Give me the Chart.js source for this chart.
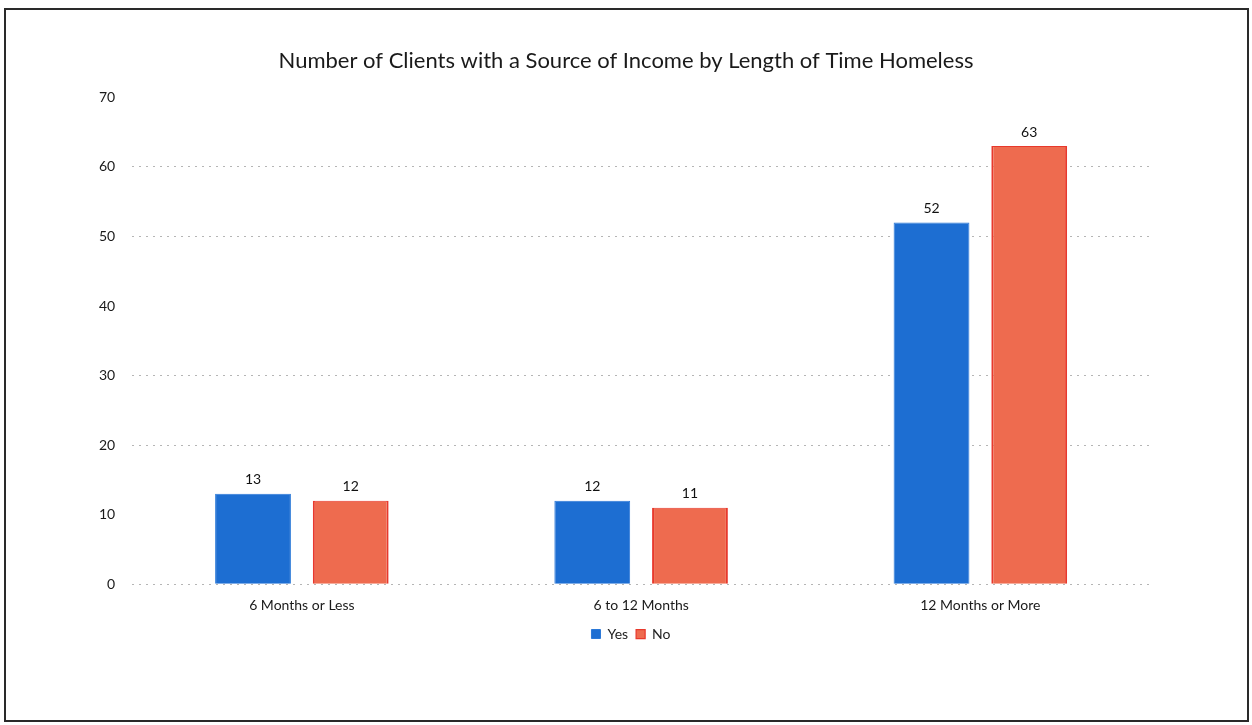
<!DOCTYPE html>
<html>
<head>
<meta charset="utf-8">
<script src="https://cdn.jsdelivr.net/npm/chart.js@4/dist/chart.umd.min.js"></script>
<style>
  html, body { margin: 0; padding: 0; background: #fff; }
  #wrap { position: relative; width: 1252px; height: 725px; }
  #frame {
    position: absolute; left: 4px; top: 8px; width: 1241px; height: 710px;
    border: 2px solid #2a2a2a; pointer-events: none;
  }
</style>
</head>
<body>
<div id="wrap">
  <canvas id="chart" width="1252" height="725"></canvas>
  <div id="frame"></div>
</div>
<script>
// chart data
const categories = ["6 Months or Less", "6 to 12 Months", "12 Months or More"]
const yesValues = [13, 12, 52]
const noValues = [12, 11, 63]
const yTicks = [0, 10, 20, 30, 40, 50, 60, 70]
// gridlines that actually show up in the scanned original
const visibleGrid = [0, 20, 30, 50, 60]

const font = "Lato, 'Open Sans', sans-serif"

// draws the value above each bar (no datalabels plugin here)
const valueLabels = {
  id: "valueLabels",
  afterDatasetsDraw(chart) {
    const ctx = chart.ctx
    ctx.save()
    ctx.font = "14px " + font
    ctx.fillStyle = "#111"
    ctx.textAlign = "center"
    ctx.textBaseline = "bottom"
    chart.data.datasets.forEach((ds, i) => {
      chart.getDatasetMeta(i).data.forEach((bar, j) => {
        ctx.fillText(ds.data[j], bar.x, bar.y - 7)
      })
    })
    ctx.restore()
  }
}

// the original title and legend sit a bit right of the plot centre
const nudgeBlocks = {
  id: "nudgeBlocks",
  afterLayout(chart) {
    if (chart.titleBlock) chart.titleBlock.left += 20
    if (chart.legend) chart.legend.left += 30
  }
}

new Chart(document.getElementById("chart"), {
  type: "bar",
  data: {
    labels: categories,
    datasets: [
      {
        label: "Yes",
        data: yesValues,
        backgroundColor: "#1d6ed2",
        borderColor: "#2a78d8",
        borderWidth: 1,
        categoryPercentage: 0.576,
        barPercentage: 0.776
      },
      {
        label: "No",
        data: noValues,
        backgroundColor: "#ee6b4f",
        borderColor: "#e8392c",
        borderWidth: { left: 2, right: 2, top: 1, bottom: 0 },
        categoryPercentage: 0.576,
        barPercentage: 0.776
      }
    ]
  },
  options: {
    responsive: false,
    animation: false,
    layout: { padding: { top: 48, left: 82, right: 102, bottom: 74 } },
    plugins: {
      title: {
        display: true,
        text: "Number of Clients with a Source of Income by Length of Time Homeless",
        color: "#1a1a1a",
        font: { family: font, size: 22, weight: "normal" },
        padding: { top: 0, bottom: 23 }
      },
      legend: {
        position: "bottom",
        labels: {
          color: "#222",
          font: { family: font, size: 14 },
          boxWidth: 9,
          boxHeight: 9,
          padding: 8
        }
      },
      tooltip: { enabled: false }
    },
    scales: {
      x: {
        grid: { display: false },
        border: { display: false },
        ticks: { color: "#1a1a1a", font: { family: font, size: 14 }, padding: 5 }
      },
      y: {
        min: 0,
        max: 70,
        afterBuildTicks: (axis) => { axis.ticks = yTicks.map(v => ({ value: v })) },
        border: { display: false, dash: [2, 5] },
        grid: {
          color: (c) => visibleGrid.includes(c.tick && c.tick.value) ? "#b5b5b5" : "rgba(0,0,0,0)",
          lineWidth: 1,
          tickLength: 0
        },
        ticks: { color: "#1a1a1a", font: { family: font, size: 14 }, padding: 17 }
      }
    }
  },
  plugins: [valueLabels, nudgeBlocks]
})
</script>
</body>
</html>
